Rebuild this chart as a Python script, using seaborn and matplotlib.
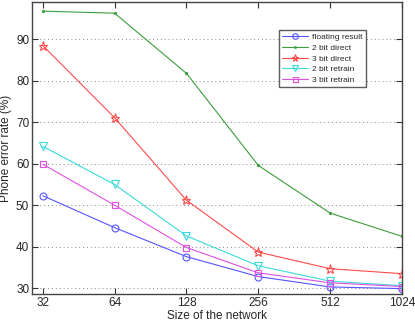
import matplotlib
matplotlib.use('Agg')
import matplotlib.pyplot as plt
import seaborn as sns
import pandas as pd

sizes = [32, 64, 128, 256, 512, 1024]
floating_result = [52.3, 44.6, 37.6, 32.8, 30.3, 29.9]
direct_2bit = [96.8, 96.3, 81.8, 59.6, 48.1, 42.5]
direct_3bit = [88.5, 71.1, 51.2, 38.7, 34.7, 33.5]
retrain_2bit = [64.2, 55.0, 42.6, 35.4, 31.7, 30.6]
retrain_3bit = [59.9, 50.0, 39.8, 33.7, 31.3, 30.4]

series_names = ['floating result', '2 bit direct', '3 bit direct', '2 bit retrain', '3 bit retrain']
series_vals = [floating_result, direct_2bit, direct_3bit, retrain_2bit, retrain_3bit]
colors = ['#5555ff', '#3c9c3c', '#ff4a4a', '#3cdada', '#e050e0']
markers = ['o', '.', '*', 'v', 's']
msizes = [5, 3, 6.5, 5.5, 4.5]

df = pd.DataFrame({
    'size': sizes * len(series_names),
    'rate': sum(series_vals, []),
    'series': [n for n in series_names for _ in sizes],
})

sns.set_style('white')
plt.rcParams['font.family'] = ['Liberation Sans', 'DejaVu Sans']

fig = plt.figure(figsize=(4.15, 3.22), dpi=100)
ax = fig.add_axes([32 / 415, 1 - 294 / 322, 370 / 415, 292 / 322])

for name, c, m, ms in zip(series_names, colors, markers, msizes):
    sub = df[df['series'] == name]
    sns.lineplot(data=sub, x='size', y='rate', ax=ax, color=c, lw=0.8,
                 marker=m, markersize=ms, markerfacecolor='none',
                 markeredgecolor=c, markeredgewidth=0.8, label=name)

ax.set_xscale('log', base=2)
ax.set_xlim(2 ** 4.85, 1024)
ax.set_ylim(28.6, 99)
ax.set_xticks(sizes)
ax.set_xticklabels([str(s) for s in sizes])
ax.minorticks_off()
ax.set_yticks([30, 40, 50, 60, 70, 80, 90])
ax.tick_params(direction='in', labelsize=8.5, length=4, pad=2, top=True, right=True,
               bottom=True, left=True, color='#333333')
ax.yaxis.grid(True, linestyle=(0, (1, 3)), color='#888888', lw=0.7)
for sp in ax.spines.values():
    sp.set_color('#444444')
    sp.set_linewidth(1.0)

ax.set_xlabel('Size of the network', fontsize=8.5, labelpad=1)
ax.set_ylabel('Phone error rate (%)', fontsize=8.5, labelpad=3)

leg = ax.legend(loc='upper left', bbox_to_anchor=(247 / 370, (294 - 30) / 292),
                fontsize=6, frameon=True, fancybox=False, borderaxespad=0,
                handlelength=3.1, labelspacing=0.35, borderpad=0.4, handletextpad=0.5,
                markerscale=0.8)
leg.get_frame().set_edgecolor('#333333')
leg.get_frame().set_linewidth(1.0)

fig.savefig('out.png', dpi=100)
